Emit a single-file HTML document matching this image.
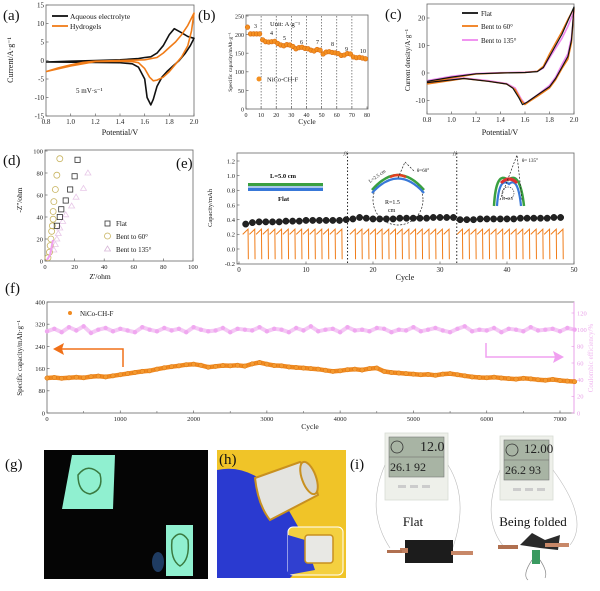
<!DOCTYPE html>
<html><head><meta charset="utf-8"><style>
html,body{margin:0;padding:0;background:#fff;}
svg{display:block;font-family:"Liberation Serif",serif;}
</style></head><body>
<svg id="fig" width="600" height="591" viewBox="0 0 600 591" xmlns="http://www.w3.org/2000/svg"></svg>
<script>
// ---------- DATA ----------
const aBlackV=[0.8,1.0,1.2,1.4,1.55,1.6,1.65,1.7,1.75,1.8,1.84,1.9,1.95,2.0,1.97,1.93,1.88,1.83,1.78,1.74,1.7,1.67,1.65,1.62,1.6,1.55,1.5,1.4,1.2,1.0,0.8];
const aBlackI=[-0.4,-0.2,0,0.2,0.5,0.8,1.0,2,4,7,8.6,7.5,6.5,6,4,2,0,-1.5,-3,-4.5,-7,-10.5,-12,-10,-5,-1.8,-0.9,-0.6,-0.5,-0.45,-0.4];
const aOrangeV=[0.8,0.9,1.0,1.1,1.2,1.4,1.6,1.7,1.75,1.8,1.85,1.9,1.95,2.0,1.98,1.95,1.9,1.85,1.8,1.75,1.7,1.67,1.64,1.6,1.55,1.5,1.4,1.2,1.0,0.8];
const aOrangeI=[-3,-2,-1.2,-0.5,-0.2,0,0.2,0.8,2,3.5,5,7,9.5,12.8,8,4,1,-1,-3,-4.5,-5.3,-5.5,-4.5,-2.2,-0.6,-0.3,-0.2,-0.3,-1.5,-3];
const aXTicks=[0.8,1.0,1.2,1.4,1.6,1.8,2.0];
const aYTicks=[-15,-10,-5,0,5,10,15];
const bCycles=[1,3,5,7,9,11,13,15,17,19,21,23,25,27,29,31,33,35,37,39,41,43,45,47,49,51,53,55,57,59,61,63,65,67,69,71,73,75,77,79];
const bCap=[220,202,202,202,202,186,181,180,181,182,176,172,170,173,172,168,162,165,166,163,162,158,156,160,158,148,153,154,152,151,149,144,145,149,148,140,138,139,137,135];
const bRates=["3","4","5","6","7","8","9","10"];
const bXTicks=[0,10,20,30,40,50,60,70,80];
const bYTicks=[0,50,100,150,200,250];
const cFlatV=[0.8,1.0,1.2,1.4,1.6,1.7,1.75,1.8,1.85,1.9,1.95,2.0,1.98,1.95,1.9,1.85,1.8,1.7,1.62,1.58,1.55,1.5,1.45,1.3,1.1,1.0,0.8];
const cFlatI=[-3,-1.5,-0.3,0,0.2,0.5,2,6,10,14,19,24,12,6,2,-2,-5,-8,-10.5,-11.5,-9,-5.5,-4,-3,-2,-2.5,-3.5];
const c60V=[0.8,1.0,1.2,1.4,1.6,1.7,1.75,1.8,1.85,1.9,1.95,2.0,1.98,1.95,1.9,1.85,1.8,1.7,1.63,1.6,1.57,1.52,1.45,1.3,1.1,1.0,0.8];
const c60I=[-3.5,-1.8,-0.4,0,0.2,0.6,2.5,7,11,15,19.5,23.5,11,5,1.5,-2.5,-5.5,-8.5,-10.5,-11.5,-10,-6,-4,-3,-2,-2.7,-4];
const c135V=[0.8,1.0,1.2,1.4,1.6,1.7,1.75,1.8,1.85,1.9,1.95,2.0,1.98,1.95,1.9,1.85,1.8,1.7,1.63,1.6,1.57,1.52,1.45,1.3,1.1,1.0,0.8];
const c135I=[-2.8,-1.2,-0.2,0.1,0.3,0.6,1.8,5.5,9,12.5,17,22.5,13,7,3,-1.5,-4.5,-8,-10.2,-11.2,-9.5,-5.5,-3.8,-2.8,-1.8,-2.3,-3];
const cXTicks=[0.8,1.0,1.2,1.4,1.6,1.8,2.0];
const cYTicks=[-10,0,10,20];
const dFlatX=[8,10,11,14,17,20,22];
const dFlatY=[32,40,47,55,65,77,92];
const d60X=[2,3,3.5,4,4.5,5,5.5,5.5,6,7,8,10];
const d60Y=[3,8,14,20,27,32,38,45,54,65,78,93];
const d135X=[6,7,8,9,10,12,14,18,21,26,29];
const d135Y=[10,15,20,25,30,36,42,50,58,66,80];
const dTicks=[0,20,40,60,80,100];
const eCap=[0.34,0.36,0.37,0.37,0.37,0.37,0.38,0.38,0.38,0.39,0.39,0.39,0.39,0.39,0.39,0.40,0.41,0.43,0.42,0.41,0.41,0.41,0.41,0.42,0.42,0.42,0.42,0.42,0.43,0.43,0.43,0.43,0.40,0.40,0.40,0.41,0.41,0.41,0.41,0.41,0.41,0.42,0.42,0.42,0.42,0.42,0.43,0.43];
const eXTicks=[0,10,20,30,40,50];
const eYTicks=[-0.2,0.0,0.2,0.4,0.6,0.8,1.0,1.2];
const eBreaks=[16.2,32.5];
const fCycleStep=100;
const fCap=[126,128,125,127,129,127,131,133,130,134,138,142,146,150,152,158,163,167,170,174,
176,172,165,168,171,170,172,169,177,182,176,171,170,166,164,162,160,158,154,150,
152,156,158,155,160,162,150,146,144,142,140,138,139,136,140,142,138,134,130,128,
127,129,126,124,122,125,123,120,118,121,117,115,113];
const fCE=[98,101,97,103,99,104,96,100,102,98,101,99,97,103,100,98,102,99,101,97,
103,100,98,99,102,97,101,100,99,103,98,101,100,97,102,99,104,98,100,101,
97,103,99,100,98,102,101,97,100,99,103,98,100,102,99,97,101,104,98,100,
99,102,97,101,100,98,103,99,100,101,98,102,100];
const fXTicks=[0,1000,2000,3000,4000,5000,6000,7000];
const fYTicks=[0,80,160,240,320,400];
const fY2Ticks=[0,20,40,60,80,100,120];

// ---------- HELPERS ----------
const NS='http://www.w3.org/2000/svg';
const svg=document.getElementById('fig');
function mk(parent,tag,attrs,text){const e=document.createElementNS(NS,tag);for(const k in attrs)e.setAttribute(k,attrs[k]);if(text!==undefined)e.textContent=text;parent.appendChild(e);return e;}
function lin(d0,d1,r0,r1){return v=>r0+(v-d0)*(r1-r0)/(d1-d0);}
function grp(name){const g=mk(svg,'g',{});return g;}
function frame(g,l,t,r,b){const f=mk(g,'rect',{x:l,y:t,width:r-l,height:b-t,fill:'none',stroke:'#666','stroke-width':0.8});}
function xticks(g,ticks,X,b,fmt,fs,col){ticks.forEach(v=>{const x=X(v);mk(g,'line',{x1:x,x2:x,y1:b,y2:b-2.5,stroke:col||'#666','stroke-width':0.7});const t=mk(g,'text',{x:x,y:b+8,'font-size':fs||7,'text-anchor':'middle',fill:'#222'},fmt(v));});}
function yticks(g,ticks,Y,l,fmt,fs,col,right){ticks.forEach(v=>{const y=Y(v);mk(g,'line',{x1:l,x2:right?l-2.5:l+2.5,y1:y,y2:y,stroke:col||'#666','stroke-width':0.7});const t=mk(g,'text',{x:right?l+3:l-2,y:y+2.4,'font-size':fs||7,'text-anchor':right?'start':'end',fill:col||'#222'},fmt(v));});}
function path(g,xs,ys,X,Y,col,w){let d='';xs.forEach((v,i)=>{d+=(i?'L':'M')+X(v).toFixed(1)+','+Y(ys[i]).toFixed(1);});return mk(g,'path',{d:d,fill:'none',stroke:col,'stroke-width':w,'stroke-linejoin':'round'});}
function label(g,x,y,txt,fs,name,extra){const a=Object.assign({x:x,y:y,'font-size':fs,fill:'#111'},extra||{});const t=mk(g,'text',a,txt);return t;}
function vlabel(g,x,y,txt,fs,name,col){const t=mk(g,'text',{x:0,y:0,'font-size':fs,'text-anchor':'middle',fill:col||'#111',transform:`translate(${x},${y}) rotate(-90)`},txt);return t;}
const f1=v=>v.toFixed(1), f0=v=>String(v);

// ---------- (a) ----------
(function(){const g=grp('panel-a');
const X=lin(0.8,2.0,46,194),Y=lin(15,-15,5,116);
label(g,3,20,'(a)',15,'panel-label-a');
frame(g,46,5,194,116);
xticks(g,aXTicks,X,116,f1);yticks(g,aYTicks,Y,46,f0);
label(g,120,135,'Potential/V',8,'x-axis-title',{'text-anchor':'middle'});
vlabel(g,13,60,'Current/A·g⁻¹',8,'y-axis-title');
const p1=path(g,aBlackV,aBlackI,X,Y,'#111',1.6);
const p2=path(g,aOrangeV,aOrangeI,X,Y,'#f07c18',1.6);
mk(g,'line',{x1:52,x2:68,y1:16,y2:16,stroke:'#111','stroke-width':1.8});
label(g,70,19,'Aqueous electrolyte',7.5,'legend-aqueous');
mk(g,'line',{x1:52,x2:68,y1:26,y2:26,stroke:'#f07c18','stroke-width':1.8});
label(g,70,29,'Hydrogels',7.5,'legend-hydrogels');
label(g,76,93,'5 mV·s⁻¹',7,'scan-rate-note');
})();

// ---------- (b) ----------
(function(){const g=grp('panel-b');
const X=lin(0,80,246,367),Y=lin(0,250,109,16);
label(g,198,20,'(b)',15,'panel-label-b');
frame(g,246,15,368,109);
xticks(g,bXTicks,X,109,f0,6);yticks(g,bYTicks,Y,246,f0,6);
label(g,307,124,'Cycle',7.5,'x-axis-title',{'text-anchor':'middle'});
vlabel(g,232,62,'Specific capacity/mAh·g⁻¹',5.5,'y-axis-title');
for(let k=1;k<8;k++){const x=X(k*10);mk(g,'line',{x1:x,x2:x,y1:16,y2:108,stroke:'#555','stroke-width':0.7,'stroke-dasharray':'1.5,1.5'});}
bCycles.forEach((c,i)=>{const m=mk(g,'circle',{cx:X(c),cy:Y(bCap[i]),r:2.3,fill:'#f49020',stroke:'#d86a10','stroke-width':0.6});

});
const rp=[[254,28],[270,35],[283,40],[300,44],[316,44],[331,46],[345,51],[360,53]];
bRates.forEach((r,i)=>{label(g,rp[i][0],rp[i][1],r,6,'rate-label');});
label(g,270,26,'Unit: A·g⁻¹',6.5,'unit-note');
mk(g,'circle',{cx:259,cy:79,r:2.5,fill:'#f49020'});
label(g,267,81.5,'NiCo-CH-F',6.5,'legend-nico');
})();

// ---------- (c) ----------
(function(){const g=grp('panel-c');
const X=lin(0.8,2.0,427,574),Y=lin(0,20,73,18);
label(g,385,19,'(c)',15,'panel-label-c');
frame(g,427,4,574,114);
xticks(g,cXTicks,X,114,f1);yticks(g,cYTicks,Y,427,f0);
label(g,500,135,'Potential/V',8,'x-axis-title',{'text-anchor':'middle'});
vlabel(g,410,60,'Current density/A·g⁻¹',7,'y-axis-title');
const p3=path(g,c135V,c135I,X,Y,'#ee88ee',1.6);
const p2=path(g,c60V,c60I,X,Y,'#f07c18',1.4);
const p1=path(g,cFlatV,cFlatI,X,Y,'#111',1.2);
mk(g,'line',{x1:462,x2:478,y1:13,y2:13,stroke:'#111','stroke-width':1.8});label(g,481,16,'Flat',7,'legend-flat');
mk(g,'line',{x1:462,x2:478,y1:26,y2:26,stroke:'#f07c18','stroke-width':1.8});label(g,481,29,'Bent to 60°',7,'legend-bent60');
mk(g,'line',{x1:462,x2:478,y1:40,y2:40,stroke:'#ee88ee','stroke-width':1.8});label(g,481,43,'Bent to 135°',7,'legend-bent135');
})();

// ---------- (d) ----------
(function(){const g=grp('panel-d');
const X=lin(0,100,45,193),Y=lin(0,100,261,151);
label(g,3,165,'(d)',15,'panel-label-d');
frame(g,45,150,193,261);
xticks(g,dTicks,X,261,f0,6.5);yticks(g,dTicks,Y,45,f0,6.5);
label(g,100,279,"Z'/ohm",7.5,'x-axis-title',{'text-anchor':'middle'});
vlabel(g,22,200,"-Z''/ohm",7.5,'y-axis-title');
d135X.forEach((v,i)=>{const x=X(v),y=Y(d135Y[i]);const m=mk(g,'path',{d:`M${x},${y-3}L${x+3},${y+2}L${x-3},${y+2}Z`,fill:'none',stroke:'#e8c8e8','stroke-width':0.8});

});
d60X.forEach((v,i)=>{const m=mk(g,'circle',{cx:X(v),cy:Y(d60Y[i]),r:3,fill:'none',stroke:'#c8b460','stroke-width':0.8});

});
dFlatX.forEach((v,i)=>{const m=mk(g,'rect',{x:X(v)-2.6,y:Y(dFlatY[i])-2.6,width:5.2,height:5.2,fill:'none',stroke:'#333','stroke-width':0.8});

});
mk(g,'path',{d:'M47,260 L50,255 L52,245 L53,240',stroke:'#f0a0f0','stroke-width':2,fill:'none'});
mk(g,'rect',{x:105,y:221,width:5,height:5,fill:'none',stroke:'#333','stroke-width':0.8});label(g,116,226,'Flat',7,'legend-flat');
mk(g,'circle',{cx:107.5,cy:236,r:3,fill:'none',stroke:'#c8b460','stroke-width':0.8});label(g,116,239,'Bent to 60°',7,'legend-bent60');
mk(g,'path',{d:'M107.5,246 L110.5,251 L104.5,251Z',fill:'none',stroke:'#d8b8d8','stroke-width':0.8});label(g,116,252,'Bent to 135°',7,'legend-bent135');
})();

// ---------- (e) ----------
(function(){const g=grp('panel-e');
const X=lin(0,50,239,574),Y=lin(0,1.2,249,161);
label(g,176,168,'(e)',15,'panel-label-e');
frame(g,237,153,574,264);
xticks(g,eXTicks,X,264,f0,7);yticks(g,eYTicks,Y,237,f1,6.5);
label(g,405,280,'Cycle',8,'x-axis-title',{'text-anchor':'middle'});
vlabel(g,212,208,'Capacity/mAh',6.5,'y-axis-title');
eBreaks.forEach(b=>{const x=X(b);mk(g,'line',{x1:x,x2:x,y1:153,y2:264,stroke:'#222','stroke-width':1,'stroke-dasharray':'1.5,2'});
label(g,x-4,156,'//',7,'axis-break');});
eCap.forEach((c,i)=>{const n=i+1;if(n===16||n===32)return;const a=X(n-0.45),b=X(n+0.35);
const t=mk(g,'path',{d:`M${a},${Y(0.2)}L${b},${Y(0.27)}L${b+0.3},${Y(-0.14)}`,fill:'none',stroke:'#f07c18','stroke-width':1});

});
eCap.forEach((c,i)=>{const m=mk(g,'circle',{cx:X(i+1),cy:Y(c),r:3.2,fill:'#222',stroke:'#000','stroke-width':0.4});

});
mk(g,'rect',{x:248,y:183,width:75,height:3,fill:'#3aa040'});
mk(g,'rect',{x:248,y:186,width:75,height:2,fill:'#a8c8e8'});
mk(g,'rect',{x:248,y:188,width:75,height:3,fill:'#3878d8'});
label(g,270,178,'L=5.0 cm',6.5,'inset-length',{'font-weight':'bold'});
label(g,278,201,'Flat',6.5,'inset-flat',{'font-weight':'bold'});
mk(g,'circle',{cx:398,cy:200,r:25,fill:'none',stroke:'#222','stroke-width':0.7,'stroke-dasharray':'2,1.5'});
mk(g,'path',{d:'M372,190 Q398,160 424,190',fill:'none',stroke:'#3aa040','stroke-width':2.5});
mk(g,'path',{d:'M372,193 Q398,164 424,193',fill:'none',stroke:'#3878d8','stroke-width':2.2});
mk(g,'path',{d:'M390,177 Q398,173 406,177',fill:'none',stroke:'#e04020','stroke-width':2.5});
mk(g,'path',{d:'M398,178 L405,162 L415,172',fill:'none',stroke:'#222','stroke-width':0.7,'stroke-dasharray':'2,1.5'});
label(g,370,183,'L=2.5 cm',5,'inset-length-bent',{transform:'rotate(-35 370 183)'});
label(g,417,172,'θ=60°',5,'inset-angle-60');
label(g,385,204,'R=1.5',6,'inset-radius');label(g,388,212,'cm',6,'inset-radius-unit');
mk(g,'path',{d:'M494,206 Q496,170 508,180 Q520,170 524,206',fill:'none',stroke:'#3aa040','stroke-width':2.5});
mk(g,'path',{d:'M497,206 Q499,176 509,184 Q518,176 521,206',fill:'none',stroke:'#3878d8','stroke-width':2.2});
mk(g,'path',{d:'M501,183 Q509,175 517,183',fill:'none',stroke:'#e03030','stroke-width':3});
mk(g,'path',{d:'M500,200 L517,155 L522,200',fill:'none',stroke:'#222','stroke-width':0.7,'stroke-dasharray':'2,1.5'});
mk(g,'circle',{cx:508,cy:193,r:6,fill:'none',stroke:'#222','stroke-width':0.6,'stroke-dasharray':'1.5,1'});
label(g,522,162,'θ= 135°',5,'inset-angle-135');
label(g,502,200,'R=0.5',4.5,'inset-radius-small');
})();

// ---------- (f) ----------
(function(){const g=grp('panel-f');
const X=lin(0,7000,47,560),Y=lin(0,400,413,302),Y2=lin(0,120,413,313);
label(g,5,293,'(f)',15,'panel-label-f');
frame(g,47,302,574,413);
mk(g,'line',{x1:574,x2:574,y1:302,y2:413,stroke:'#e8a0e8','stroke-width':1});
xticks(g,fXTicks,X,413,f0,6.5);yticks(g,fYTicks,Y,47,f0,6.5);yticks(g,fY2Ticks,Y2,574,f0,6.5,'#e8a0e8',true);
[500,1500,2500,3500,4500,5500,6500].forEach(v=>mk(g,'line',{x1:X(v),x2:X(v),y1:413,y2:411,stroke:'#666','stroke-width':0.6}));
label(g,310,429,'Cycle',7.5,'x-axis-title',{'text-anchor':'middle'});
vlabel(g,22,358,'Specific capacity/mAh·g⁻¹',7,'y-axis-title');
vlabel(g,593,358,'Coulombic efficiency/%',7,'y2-axis-title','#f0b8f0');
let dce='';fCE.forEach((v,i)=>{dce+=(i?'L':'M')+X(i*fCycleStep).toFixed(1)+','+Y2(v).toFixed(1);});
const lce=mk(g,'path',{d:dce,fill:'none',stroke:'#f0b0f0','stroke-width':4,opacity:0.7});


fCE.forEach((v,i)=>{const m=mk(g,'circle',{cx:X(i*fCycleStep),cy:Y2(v),r:2.2,fill:'#f0a8f0'});

});
let dc='';fCap.forEach((v,i)=>{dc+=(i?'L':'M')+X(i*fCycleStep).toFixed(1)+','+Y(v).toFixed(1);});
const lc=mk(g,'path',{d:dc,fill:'none',stroke:'#f08a20','stroke-width':4.5,'stroke-linejoin':'round'});


fCap.forEach((v,i)=>{const m=mk(g,'circle',{cx:X(i*fCycleStep),cy:Y(v),r:2.2,fill:'#f49a30',stroke:'#d87010','stroke-width':0.5});

});
mk(g,'path',{d:'M123,367 L123,349 L62,349',fill:'none',stroke:'#f07018','stroke-width':1.5});
mk(g,'path',{d:'M53,349 L64,343 L62,349 L64,355Z',fill:'#f07018'});
mk(g,'path',{d:'M486,343 L486,357 L555,357',fill:'none',stroke:'#f0a0f0','stroke-width':1.5});
mk(g,'path',{d:'M564,357 L553,351 L555,357 L553,363Z',fill:'#f0a0f0'});
mk(g,'circle',{cx:70,cy:313,r:2,fill:'#f08a20'});
label(g,80,316,'NiCo-CH-F',7,'legend-nico');
})();

// ---------- (g) ----------
(function(){const g=grp('panel-g');
label(g,5,469,'(g)',15,'panel-label-g');
mk(g,'rect',{x:44,y:450,width:164,height:129,fill:'#050505'});
mk(g,'polygon',{points:'72,455 115,455 113,509 62,509',fill:'#90f0d0'});
mk(g,'path',{d:'M78,475 Q88,462 100,474 Q104,490 90,494 Q78,492 78,475Z',fill:'none',stroke:'#3a7a40','stroke-width':1.5});
mk(g,'rect',{x:166,y:525,width:27,height:51,fill:'#90f0d0'});
mk(g,'path',{d:'M172,540 Q180,528 188,540 Q190,560 180,566 Q170,560 172,540Z',fill:'none',stroke:'#3a7a40','stroke-width':1.5});
mk(g,'ellipse',{cx:158,cy:562,rx:6,ry:10,fill:'#3060a0',opacity:0.6});
})();

// ---------- (h) ----------
(function(){const g=grp('panel-h');
mk(g,'rect',{x:217,y:450,width:129,height:128,fill:'#f0c428'});
mk(g,'path',{d:'M217,470 Q240,465 262,480 L280,495 L300,530 Q305,565 290,578 L217,578Z',fill:'#2a3ad0'});
mk(g,'path',{d:'M255,478 L300,462 Q312,470 318,495 L270,520 Q258,505 255,478Z',fill:'#e4e4e0',stroke:'#c89020','stroke-width':2});
mk(g,'ellipse',{cx:309,cy:478,rx:7,ry:17,fill:'#d8d8d4',stroke:'#c89020','stroke-width':2,transform:'rotate(-20 309 478)'});
mk(g,'rect',{x:288,y:527,width:55,height:48,rx:5,fill:'#f4d040',stroke:'#fff','stroke-width':1});
mk(g,'path',{d:'M288,535 L305,540 L315,570 L288,575Z',fill:'#3040d0'});
mk(g,'rect',{x:305,y:535,width:28,height:28,rx:3,fill:'#e8e8e4',stroke:'#c89020','stroke-width':1.5});
label(g,219,464,'(h)',15,'panel-label-h');
})();

// ---------- (i) ----------
(function(){const g=grp('panel-i');
label(g,350,469,'(i)',15,'panel-label-i');
[[385,433,448,500],[500,436,553,500]].forEach(b=>{mk(g,'rect',{x:b[0],y:b[1],width:b[2]-b[0],height:b[3]-b[1],fill:'#eef0ea',stroke:'#d8dcd4','stroke-width':0.8});
mk(g,'rect',{x:b[0]+4,y:b[1]+4,width:b[2]-b[0]-8,height:40,fill:'#a8b4a4',stroke:'#777','stroke-width':0.6});
mk(g,'line',{x1:b[0]+4,x2:b[2]-4,y1:b[1]+24,y2:b[1]+24,stroke:'#666','stroke-width':0.6});
mk(g,'circle',{cx:b[0]+12,cy:b[1]+14,r:6,fill:'none',stroke:'#333','stroke-width':0.8});
mk(g,'rect',{x:b[0]+13,y:b[1]+52,width:8,height:3,fill:'#ccc'});mk(g,'rect',{x:b[0]+25,y:b[1]+52,width:8,height:3,fill:'#ccc'});mk(g,'rect',{x:b[0]+37,y:b[1]+52,width:8,height:3,fill:'#ccc'});});
label(g,420,451,'12.0',14,'display-time-flat',{fill:'#222'});label(g,390,471,'26.1 92',12,'display-temp-flat',{fill:'#222'});
label(g,524,453,'12.00',13,'display-time-folded',{fill:'#222'});label(g,505,474,'26.2 93',12,'display-temp-folded',{fill:'#222'});
mk(g,'path',{d:'M385,465 Q365,510 390,548 M448,465 Q470,500 452,550 M500,470 Q480,520 505,548 M553,470 Q590,520 570,545',fill:'none',stroke:'#bbb','stroke-width':0.6});
label(g,413,526,'Flat',13,'flat-caption',{'text-anchor':'middle'});
label(g,533,526,'Being folded',13,'folded-caption',{'text-anchor':'middle'});
mk(g,'rect',{x:405,y:540,width:48,height:23,fill:'#1c1c1c'});
mk(g,'rect',{x:400,y:548,width:8,height:5,fill:'#c08060'});mk(g,'rect',{x:451,y:551,width:22,height:4,fill:'#c88868'});
mk(g,'rect',{x:387,y:550,width:15,height:3,fill:'#b07050'});
mk(g,'path',{d:'M520,545 L532,533 L545,540 L560,535 L558,550 L540,548Z',fill:'#2a2a2a'});
mk(g,'rect',{x:532,y:550,width:8,height:14,fill:'#3a9a60'});
mk(g,'rect',{x:498,y:545,width:20,height:4,fill:'#b07050'});mk(g,'rect',{x:545,y:543,width:24,height:4,fill:'#c88868'});
mk(g,'path',{d:'M532,560 Q522,575 528,580 M540,560 Q548,572 545,578',fill:'none',stroke:'#888','stroke-width':0.7});
})();
</script>
</body></html>
